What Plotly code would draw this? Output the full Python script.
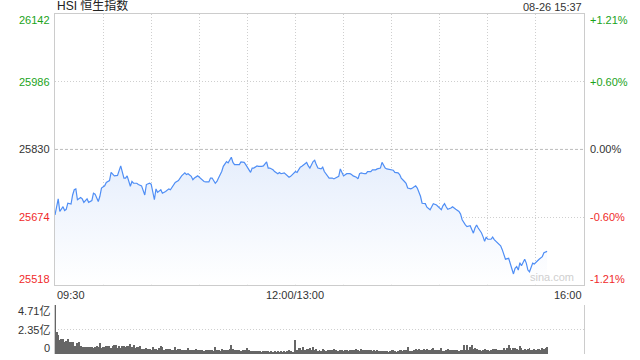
import plotly.graph_objects as go

# ---------------- data ----------------
prev_close = 25830
price_ticks = [26142, 25986, 25830, 25674, 25518]
pct_labels = ["+1.21%", "+0.60%", "0.00%", "-0.60%", "-1.21%"]
tick_colors = ["#1aa31a", "#1aa31a", "#333333", "#f02a2a", "#f02a2a"]
time_labels = ["09:30", "12:00/13:00", "16:00"]
time_label_minutes = [0, 150, 330]
vol_ticks = [4.71, 2.35, 0]
vol_tick_labels = ["4.71亿", "2.35亿", "0"]

# trading minutes since 09:30 (lunch break 12:00-13:00 skipped)
minutes = [
    0, 2, 3, 5, 6, 7, 8, 10, 11, 12,
    13, 14, 16, 17, 18, 20, 21, 23, 24, 25,
    27, 28, 29, 31, 32, 34, 35, 37, 39, 40,
    41, 43, 44, 45, 47, 48, 49, 51, 52, 54,
    56, 57, 59, 60, 62, 63, 64, 66, 67, 69,
    71, 72, 74, 75, 77, 78, 79, 81, 82, 83,
    85, 86, 87, 89, 90, 92, 93, 94, 96, 97,
    98, 100, 101, 102, 104, 105, 107, 108, 110, 111,
    112, 114, 115, 116, 118, 119, 121, 122, 123, 124,
    126, 127, 129, 130, 132, 133, 134, 136, 137, 139,
    140, 141, 143, 144, 146, 147, 149, 150, 151, 153,
    154, 156, 157, 158, 159, 161, 162, 163, 164, 166,
    167, 168, 170, 171, 173, 174, 175, 177, 178, 179,
    180, 182, 184, 185, 186, 188, 189, 190, 191, 193,
    194, 195, 197, 198, 200, 201, 203, 204, 205, 206,
    207, 209, 211, 212, 214, 215, 216, 218, 219, 220,
    222, 223, 225, 226, 227, 228, 229, 231, 232, 234,
    235, 236, 238, 239, 241, 242, 243, 244, 245, 247,
    248, 250, 252, 253, 254, 256, 257, 259, 260, 261,
    262, 263, 264, 266, 267, 268, 269, 270, 272, 273,
    274, 276, 278, 279, 280, 281, 283, 284, 286, 287,
    288, 289, 290, 291, 293, 294, 295, 296, 298, 299,
    301, 302, 304, 305, 307,
]
prices = [
    25679, 25716, 25687, 25698, 25689, 25692, 25706, 25704, 25725, 25737,
    25739, 25714, 25719, 25716, 25708, 25716, 25708, 25712, 25729, 25727,
    25710, 25722, 25741, 25746, 25754, 25758, 25777, 25769, 25770, 25783,
    25792, 25764, 25764, 25769, 25745, 25756, 25752, 25752, 25749, 25746,
    25725, 25749, 25752, 25750, 25714, 25739, 25731, 25737, 25729, 25733,
    25739, 25737, 25749, 25754, 25758, 25764, 25769, 25776, 25772, 25774,
    25768, 25760, 25764, 25769, 25766, 25758, 25756, 25755, 25755, 25764,
    25764, 25752, 25756, 25764, 25779, 25791, 25802, 25799, 25812, 25800,
    25795, 25795, 25795, 25801, 25800, 25795, 25783, 25777, 25787, 25787,
    25792, 25791, 25791, 25792, 25801, 25787, 25787, 25783, 25779, 25774,
    25777, 25774, 25776, 25772, 25766, 25768, 25774, 25779, 25777, 25789,
    25791, 25797, 25800, 25792, 25787, 25802, 25805, 25795, 25787, 25785,
    25789, 25779, 25769, 25764, 25764, 25762, 25764, 25768, 25785, 25776,
    25769, 25774, 25774, 25772, 25769, 25766, 25762, 25774, 25776, 25774,
    25774, 25779, 25779, 25783, 25783, 25785, 25787, 25800, 25792, 25787,
    25785, 25783, 25782, 25777, 25776, 25772, 25764, 25756, 25752, 25741,
    25739, 25741, 25746, 25741, 25733, 25722, 25706, 25705, 25697, 25691,
    25698, 25705, 25702, 25698, 25691, 25700, 25705, 25698, 25692, 25695,
    25698, 25692, 25687, 25681, 25668, 25656, 25652, 25654, 25645, 25637,
    25649, 25656, 25649, 25638, 25629, 25618, 25628, 25623, 25623, 25628,
    25622, 25614, 25608, 25599, 25587, 25577, 25579, 25568, 25543, 25556,
    25560, 25552, 25569, 25562, 25577, 25568, 25552, 25548, 25568, 25566,
    25575, 25577, 25583, 25592, 25595,
]

# volume per minute, in 亿 (100 million)
vol_morning = [
    4.71, 2.08, 1.79, 1.38, 1.47, 1.47, 1.19, 1.28, 1.44, 1.19,
    1.19, 1.12, 0.74, 0.80, 1.06, 1.15, 0.80, 0.67, 0.64, 0.67,
    0.64, 0.70, 0.64, 0.71, 0.62, 0.71, 0.80, 0.64, 1.09, 0.58,
    0.71, 0.66, 0.80, 0.80, 0.80, 0.54, 0.74, 0.87, 0.90, 0.58,
    0.74, 0.61, 0.80, 0.80, 0.64, 0.74, 0.80, 0.99, 0.64, 0.83,
    0.54, 0.64, 0.70, 0.74, 0.48, 0.48, 0.51, 0.58, 0.51, 0.45,
    0.42, 0.64, 0.48, 0.52, 0.35, 0.54, 0.80, 0.71, 0.42, 0.48,
    0.48, 0.51, 0.45, 0.38, 0.42, 0.67, 0.42, 0.45, 0.50, 0.38,
    0.42, 0.42, 0.42, 0.58, 0.42, 0.42, 0.42, 0.35, 0.51, 0.42,
    0.42, 0.35, 0.42, 0.32, 0.35, 0.42, 0.38, 0.35, 0.35, 0.32,
    0.71, 0.42, 0.35, 0.32, 0.51, 0.42, 0.42, 0.38, 0.42, 0.45,
    0.90, 0.51, 0.35, 0.35, 0.35, 0.42, 0.32, 0.35, 0.42, 0.38,
    0.58, 0.42, 0.26, 0.32, 0.32, 0.32, 0.26, 0.32, 0.26, 0.16,
    0.32, 0.32, 0.26, 0.26, 0.19, 0.26, 0.22, 0.26, 0.19, 0.26,
    0.19, 0.26, 0.22, 0.26, 0.19, 0.26, 0.42, 0.32, 0.16, 0.16,
]
vol_afternoon = [
    1.38, 0.42, 0.58, 0.58, 0.42, 0.67, 0.42, 0.51, 0.45, 0.58,
    0.42, 0.67, 0.42, 0.51, 0.26, 0.35, 0.32, 0.51, 0.35, 0.26,
    0.42, 0.42, 0.42, 0.42, 0.51, 0.42, 0.32, 0.32, 0.35, 0.42,
    0.26, 0.35, 0.42, 0.26, 0.35, 0.35, 0.42, 0.42, 0.51, 0.42,
    0.26, 0.51, 0.42, 0.42, 0.35, 0.42, 0.42, 0.35, 0.26, 0.42,
    0.26, 0.35, 0.26, 0.32, 0.26, 0.32, 0.26, 0.32, 0.19, 0.26,
    0.35, 0.42, 0.26, 0.16, 0.26, 0.35, 0.42, 0.26, 0.35, 0.42,
    0.67, 0.32, 0.26, 0.32, 0.42, 0.51, 0.42, 0.51, 0.42, 0.42,
    0.51, 0.42, 0.51, 0.42, 0.42, 0.48, 0.58, 0.42, 0.35, 0.42,
    0.42, 0.58, 0.32, 0.26, 0.42, 0.48, 0.42, 0.42, 0.35, 0.35,
    0.42, 0.35, 0.32, 0.35, 0.42, 0.90, 0.42, 0.90, 0.42, 0.64,
    0.83, 0.51, 0.58, 0.51, 0.42, 0.35, 0.32, 0.42, 0.51, 0.42,
    0.35, 0.32, 0.42, 0.51, 0.51, 0.48, 0.42, 0.42, 0.35, 0.42,
    0.58, 0.42, 0.58, 0.87, 0.58, 0.42, 0.58, 0.58, 0.51, 0.42,
    0.74, 0.58, 0.42, 0.51, 0.42, 0.51, 0.58, 0.42, 0.35, 0.48,
    0.42, 0.48, 0.51, 0.42, 0.58, 0.51, 0.58, 0.64,
]

# ---------------- figure ----------------
FONT = "Liberation Sans, Arial, Noto Sans CJK SC, sans-serif"
GRID = "#cfcfcf"
BORDER = "#cccccc"
DOTS = "1px,2px"

vol_minutes = list(range(len(vol_morning))) + [150 + i for i in range(len(vol_afternoon))]
volumes = vol_morning + vol_afternoon

fig = go.Figure()

fig.add_trace(go.Scatter(
    x=minutes, y=prices, mode="lines",
    line=dict(color="#4f8ef5", width=1.2),
    fill="tozeroy",
    fillgradient=dict(type="vertical",
                      colorscale=[[0, "#ffffff"], [1, "#e4edfc"]],
                      start=price_ticks[-1], stop=prev_close),
    hoverinfo="skip", showlegend=False,
    xaxis="x", yaxis="y",
))

fig.add_trace(go.Bar(
    x=vol_minutes, y=volumes,
    marker=dict(color="#666666", line=dict(width=0)),
    width=0.62, showlegend=False, hoverinfo="skip",
    xaxis="x2", yaxis="y2",
))

price_dom = [0.2035, 1.0]
vol_dom = [0.0, 0.1441]

fig.update_layout(
    width=640, height=360,
    margin=dict(l=55, r=56, t=14, b=6),
    paper_bgcolor="white", plot_bgcolor="rgba(0,0,0,0)",
    font=dict(family=FONT, size=11, color="#333333"),
    bargap=0,
    xaxis=dict(range=[0, 330], tickvals=list(range(0, 331, 30)),
               showticklabels=False, ticks="",
               showgrid=True, gridcolor=GRID, griddash=DOTS, gridwidth=1,
               showline=True, linecolor=BORDER, linewidth=1, mirror=True,
               zeroline=False, domain=[0, 1], anchor="y"),
    yaxis=dict(range=[price_ticks[-1], price_ticks[0]],
               tickvals=[price_ticks[1], price_ticks[3]],
               showticklabels=False, ticks="",
               showgrid=True, gridcolor=GRID, griddash=DOTS, gridwidth=1,
               showline=True, linecolor=BORDER, linewidth=1, mirror=True,
               zeroline=False, domain=price_dom, anchor="x"),
    xaxis2=dict(range=[0, 330], showticklabels=False, ticks="",
                showgrid=False, showline=False, zeroline=False,
                domain=[0, 1], anchor="y2"),
    yaxis2=dict(range=[0, vol_ticks[0]], tickvals=vol_ticks,
                showticklabels=False, ticks="",
                showgrid=True, gridcolor=GRID, griddash=DOTS, gridwidth=1,
                showline=True, linecolor=BORDER, linewidth=1, mirror=True,
                zeroline=False, domain=vol_dom, anchor="x2"),
)

# previous-close reference line (dashed)
fig.add_shape(type="line", xref="x", yref="y", x0=0, x1=330,
              y0=prev_close, y1=prev_close,
              line=dict(color="#bbbbbb", width=1, dash="3px,2px"))

ann = []
n = len(price_ticks)
for i, (v, pl, c) in enumerate(zip(price_ticks, pct_labels, tick_colors)):
    ys = -6 if i == 0 else (6 if i == n - 1 else 0)
    ann.append(dict(x=0, xref="paper", y=v, yref="y", text=str(v),
                    xanchor="right", yanchor="middle", xshift=-3, yshift=ys,
                    showarrow=False, font=dict(color=c, size=11)))
    ann.append(dict(x=1, xref="paper", y=v, yref="y", text=pl,
                    xanchor="left", yanchor="middle", xshift=4, yshift=ys,
                    showarrow=False, font=dict(color=c, size=11)))

anchors = ["left", "center", "right"]
for lab, m, a in zip(time_labels, time_label_minutes, anchors):
    ann.append(dict(x=m, xref="x", y=price_dom[0], yref="paper", text=lab,
                    xanchor=a, yanchor="top", yshift=-2, showarrow=False,
                    font=dict(color="#333333", size=11)))

vshift = [-6, 0, 6]
for v, lab, s in zip(vol_ticks, vol_tick_labels, vshift):
    ann.append(dict(x=0, xref="paper", y=v, yref="y2", text=lab,
                    xanchor="right", yanchor="middle", xshift=-3, yshift=s,
                    showarrow=False, font=dict(color="#333333", size=11)))

ann.append(dict(x=0, xref="paper", y=1, yref="paper", text="HSI 恒生指数",
                xanchor="left", yanchor="bottom", yshift=-1, showarrow=False,
                font=dict(color="#222222", size=12)))
ann.append(dict(x=1, xref="paper", y=1, yref="paper", text="08-26 15:37",
                xanchor="right", yanchor="bottom", yshift=-1, showarrow=False,
                font=dict(color="#333333", size=11)))
ann.append(dict(x=310, xref="x", y=price_ticks[-1], yref="y", text="sina.com",
                xanchor="center", yanchor="bottom", yshift=0, showarrow=False,
                font=dict(color="#cfcfcf", size=11)))

fig.update_layout(annotations=ann)

fig.write_html("out.html")
